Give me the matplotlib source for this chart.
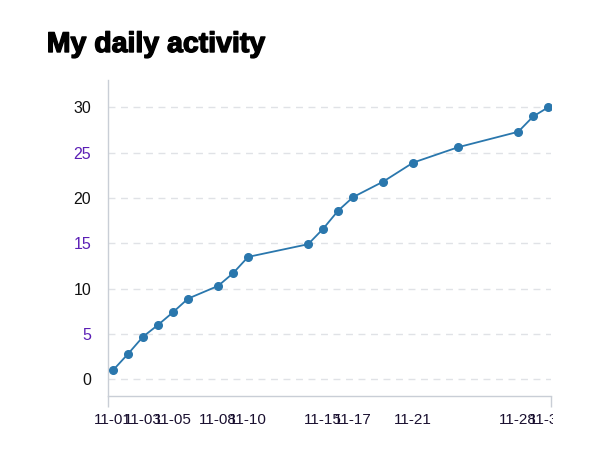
import matplotlib as mpl
mpl.use('Agg')
import matplotlib.pyplot as plt
import matplotlib.patheffects as pe
from matplotlib.transforms import Bbox, TransformedBbox

# day of November and cumulative activity
days = [1, 2, 3, 4, 5, 6, 8, 9, 10, 14, 15, 16, 17, 19, 21, 24, 28, 29, 30]
values = [1.0, 2.8, 4.7, 6.0, 7.4, 8.9, 10.3, 11.7, 13.5, 14.9, 16.6,
          18.6, 20.1, 21.8, 23.9, 25.6, 27.3, 29.0, 30.0]
label_days = [1, 3, 5, 8, 10, 15, 17, 21, 28, 30]
label_text = ['11-%02d' % d for d in label_days]
y_ticks = [0, 5, 10, 15, 20, 25, 30]
purple_y = [5, 15, 25]

plt.rcParams['font.family'] = ['Liberation Sans', 'DejaVu Sans']

fig = plt.figure(figsize=(6, 4.5), dpi=100)
ax = fig.add_axes([0.18, 0.12, 0.738, 0.702])

ax.plot(days, values, color='#2a77ad', lw=1.3, marker='o', ms=5.5, zorder=3)

ax.set_xlim(0.667, 30.17)
ax.set_ylim(-1.84, 33.0)

ax.set_yticks(y_ticks)
ax.set_yticklabels([str(v) for v in y_ticks])
ax.tick_params(axis='y', length=0, pad=12, labelsize=11.5)
for lab, v in zip(ax.get_yticklabels(), y_ticks):
    lab.set_color('#5b1fb5' if v in purple_y else '#111111')
ax.yaxis.grid(True, ls=(0, (5, 4)), color='#e0e2e6', lw=1)
ax.set_axisbelow(True)

ax.set_xticks(label_days)
ax.set_xticklabels(label_text)
ax.tick_params(axis='x', length=0, pad=12, labelsize=11, labelcolor='#1a1030')
ax.set_xticks([0.667, 30.17], minor=True)
ax.tick_params(axis='x', which='minor', length=8, color='#c9ced6', width=1)
clip = TransformedBbox(Bbox([[-1, -1], [1.005, 2]]), ax.transAxes)
for lab in ax.get_xticklabels():
    lab.set_clip_on(True)
    lab.set_clip_box(clip)

for s in ['top', 'right']:
    ax.spines[s].set_visible(False)
for s in ['left', 'bottom']:
    ax.spines[s].set_color('#c9ced6')
    ax.spines[s].set_linewidth(1)

fig.text(0.078, 1 - 52 / 450, 'My daily activity', fontsize=20.5,
         fontweight='bold', va='baseline', ha='left', color='black',
         path_effects=[pe.withStroke(linewidth=1.0, foreground='black')])

fig.savefig('out.png', dpi=100)
